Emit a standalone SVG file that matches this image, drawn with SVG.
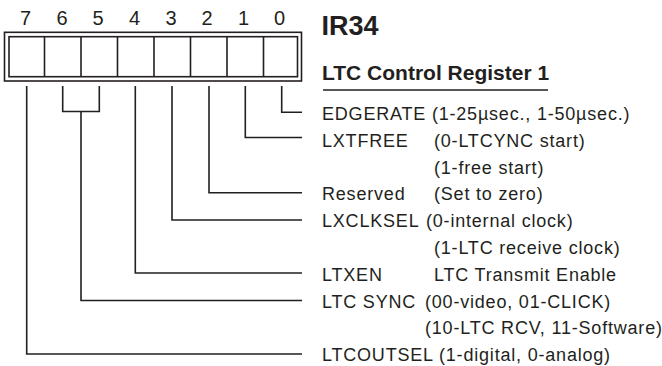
<svg xmlns="http://www.w3.org/2000/svg" width="662" height="366" viewBox="0 0 662 366">
<style>
.ln{fill:none;stroke:#231f20;stroke-width:1.6}
.t{font-family:"Liberation Sans",Arial,sans-serif;font-size:18px;letter-spacing:0.8px;fill:#231f20}
.n{font-family:"Liberation Sans",Arial,sans-serif;font-size:20px;fill:#231f20;text-anchor:middle}
.h{font-family:"Liberation Sans",Arial,sans-serif;font-weight:bold;fill:#231f20}
</style>
<rect width="662" height="366" fill="#ffffff"/>
<g id="register">
<rect class="ln" x="4.5" y="32.3" width="297" height="48.7"/>
<rect class="ln" x="9" y="36.7" width="288.5" height="40"/>
<path class="ln" d="M44.5 36.7V76.7M81 36.7V76.7M117.5 36.7V76.7M154 36.7V76.7M190.5 36.7V76.7M227 36.7V76.7M263.5 36.7V76.7"/>
<text class="n" x="25.5" y="25">7</text>
<text class="n" x="62" y="25">6</text>
<text class="n" x="98" y="25">5</text>
<text class="n" x="134.5" y="25">4</text>
<text class="n" x="171" y="25">3</text>
<text class="n" x="207" y="25">2</text>
<text class="n" x="243.5" y="25">1</text>
<text class="n" x="279.5" y="25">0</text>
</g>
<g id="title">
<text class="h" x="321.5" y="35" font-size="27">IR34</text>
<text class="h" x="322" y="80" font-size="21">LTC Control Register 1</text>
<line class="ln" x1="323" y1="90" x2="548" y2="90"/>
</g>
<g id="connectors">
<path class="ln" d="M281.7 86V112.3H302"/>
<path class="ln" d="M245.3 86V137.5H302"/>
<path class="ln" d="M209 86V192.7H302"/>
<path class="ln" d="M172 86V220H302"/>
<path class="ln" d="M135.3 86V273H302"/>
<path class="ln" d="M62.7 86V111.5H99.3V86"/>
<path class="ln" d="M81 111.5V300.5H302"/>
<path class="ln" d="M26.7 86V354H302"/>
</g>
<g id="bit0"><text class="t" x="322" y="120">EDGERATE (1-25µsec., 1-50µsec.)</text></g>
<g id="bit1"><text class="t" x="322" y="146.5">LXTFREE</text><text class="t" x="434" y="146.5">(0-LTCYNC start)</text><text class="t" x="434" y="173.5">(1-free start)</text></g>
<g id="bit2"><text class="t" x="322" y="200">Reserved</text><text class="t" x="434" y="200">(Set to zero)</text></g>
<g id="bit3"><text class="t" x="322" y="227">LXCLKSEL</text><text class="t" x="426" y="227">(0-internal clock)</text><text class="t" x="434" y="254">(1-LTC receive clock)</text></g>
<g id="bit4"><text class="t" x="322" y="280.5">LTXEN</text><text class="t" x="434" y="280.5">LTC Transmit Enable</text></g>
<g id="bit65"><text class="t" x="322" y="307.5">LTC SYNC</text><text class="t" x="425" y="307.5">(00-video, 01-CLICK)</text><text class="t" x="425" y="334">(10-LTC RCV, 11-Software)</text></g>
<g id="bit7"><text class="t" x="322" y="361">LTCOUTSEL (1-digital, 0-analog)</text></g>
</svg>
